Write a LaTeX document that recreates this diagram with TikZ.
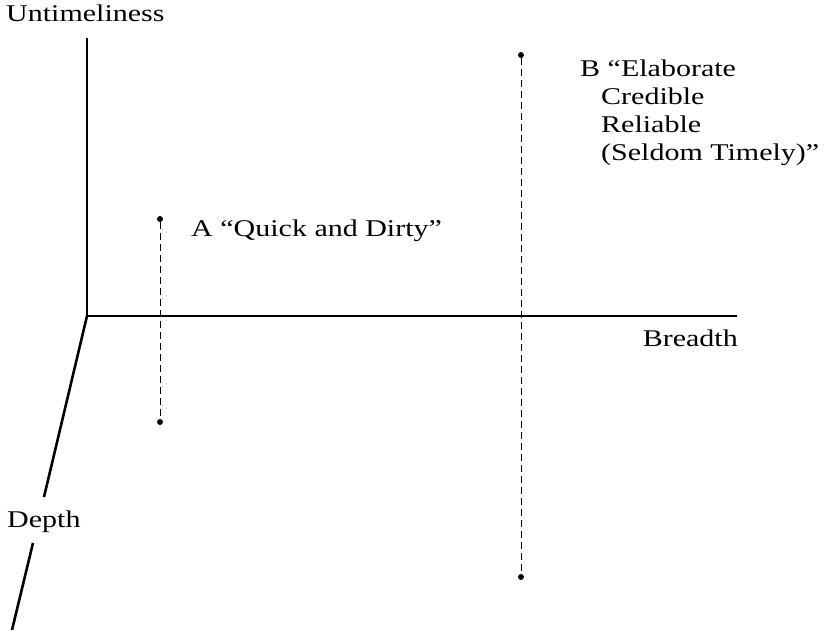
\documentclass[tikz,border=0pt]{standalone}
\usepackage{fontspec}
\setmainfont[FakeStretch=1.25]{Liberation Serif}
\begin{document}
\begin{tikzpicture}[x=1pt,y=-1pt,
  axis/.style={line width=2.6pt},
  guide/.style={line width=1pt,dash pattern=on 7pt off 4pt},
  dot/.style={circle,fill=black,inner sep=0pt,minimum size=6pt},
  lbl/.style={inner sep=0pt,font=\fontsize{24}{28}\selectfont}]
\useasboundingbox (0,0) rectangle (828,631);
\coordinate (O) at (87,316);
\coordinate (ytop) at (87,38);
\coordinate (xend) at (737,316);
\coordinate (d1) at (44,497);
\coordinate (d2) at (33,543);
\coordinate (dend) at (12,630);
\node[lbl,anchor=base west] (unt) at (6,22) {Untimeliness};
\node[lbl,anchor=base east] (bre) at (738,347) {Breadth};
\node[lbl,anchor=base west] (dep) at (7,527) {Depth};
\draw[axis] (ytop) -- (O) -- (xend);
\draw[axis] (O) -- (d1);
\draw[axis] (d2) -- (dend);
\node[dot] (a1) at (160,219) {};
\node[dot] (a2) at (160,422) {};
\node[dot] (b1) at (521,55) {};
\node[dot] (b2) at (521,577) {};
\draw[guide] (a1) -- (a2);
\draw[guide] (b1) -- (b2);
\node[lbl,anchor=base west] (at) at (191,237) {A ``Quick and Dirty''};
\node[lbl,anchor=base west,align=left] (bt) at (580,161) {B ``Elaborate\\
\hspace*{21pt}Credible\\
\hspace*{21pt}Reliable\\
\hspace*{21pt}(Seldom Timely)''};
\end{tikzpicture}
\end{document}
